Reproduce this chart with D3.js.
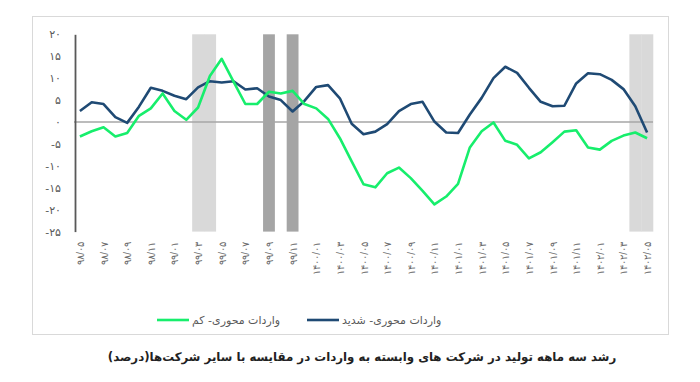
<!DOCTYPE html>
<html>
<head>
<meta charset="utf-8">
<script src="https://cdn.jsdelivr.net/npm/d3@7"></script>
<style>
  html, body { margin: 0; padding: 0; background: #ffffff; }
  svg { display: block; font-family: "DejaVu Sans", "Noto Sans", sans-serif; }
</style>
</head>
<body>
<svg id="chart" width="700" height="382"></svg>
<script>
// ---- Data ----
const months = [
  "98/05","98/06","98/07","98/08","98/09","98/10","98/11","98/12",
  "99/01","99/02","99/03","99/04","99/05","99/06","99/07","99/08","99/09","99/10","99/11","99/12",
  "1400/01","1400/02","1400/03","1400/04","1400/05","1400/06","1400/07","1400/08","1400/09","1400/10","1400/11","1400/12",
  "1401/01","1401/02","1401/03","1401/04","1401/05","1401/06","1401/07","1401/08","1401/09","1401/10","1401/11","1401/12",
  "1402/01","1402/02","1402/03","1402/04","1402/05"
];
const tickMonths = [
  "98/05","98/07","98/09","98/11","99/01","99/03","99/05","99/07","99/09","99/11",
  "1400/01","1400/03","1400/05","1400/07","1400/09","1400/11",
  "1401/01","1401/03","1401/05","1401/07","1401/09","1401/11",
  "1402/01","1402/03","1402/05"
];
const severeImport = [ // واردات محوری- شدید
  2.5, 4.5, 4.1, 1.1, -0.2, 3.5, 7.8, 7.1, 6.0, 5.2, 7.9, 9.3, 9.0, 9.3, 7.4, 7.7,
  5.8, 5.0, 2.4, 4.8, 8.0, 8.4, 5.4, -0.4, -2.8, -2.2, -0.5, 2.5, 4.1, 4.6, 0.1, -2.4,
  -2.5, 1.7, 5.5, 10.0, 12.6, 11.2, 7.8, 4.6, 3.6, 3.7, 8.8, 11.1, 10.9, 9.6, 7.5, 3.6, -2.4
];
const lowImport = [ // واردات محوری- کم
  -3.3, -2.1, -1.2, -3.3, -2.5, 1.4, 3.1, 6.5, 2.5, 0.5, 3.3, 10.5, 14.4, 9.2, 4.1, 4.1,
  6.9, 6.5, 7.1, 4.1, 3.1, 0.7, -3.7, -9.0, -14.2, -14.9, -11.7, -10.4, -12.8, -15.7, -18.8, -17.0,
  -14.1, -5.8, -2.1, -0.1, -4.3, -5.2, -8.3, -6.9, -4.6, -2.2, -1.9, -5.8, -6.3, -4.3, -3.1, -2.4, -3.7
];
const yTicks = [20, 15, 10, 5, 0, -5, -10, -15, -20, -25];
const lightBands = ["99/03", "99/04", "1402/04", "1402/05"];
const darkBands = ["99/09", "99/11"];
const seriesNames = ["واردات محوری- کم", "واردات محوری- شدید"];
const caption = "رشد سه ماهه تولید در شرکت های وابسته به واردات در مقایسه با سایر شرکت\u200Cها(درصد)";

// ---- Helpers ----
const faDigits = "۰۱۲۳۴۵۶۷۸۹";
const toFa = s => String(s).replace(/[0-9]/g, d => faDigits[+d]);

// ---- Layout ----
const svg = d3.select("#chart");
const plot = { left: 74, right: 653, top: 34.3, bottom: 231.6 };
const colors = { low: "#17ee6c", severe: "#1f4a74", light: "#d9d9d9", dark: "#a5a5a5" };

const xBand = d3.scaleBand().domain(months).range([plot.left, plot.right]).paddingInner(0).paddingOuter(0);
const xPt = d3.scalePoint().domain(months).range([plot.left, plot.right]).padding(0.5);
const y = d3.scaleLinear().domain([-25, 20]).range([plot.bottom, plot.top]);

// frame
svg.append("rect")
  .attr("x", 32.5).attr("y", 16.5).attr("width", 636).attr("height", 318)
  .attr("fill", "#ffffff").attr("stroke", "#d9d9d9").attr("stroke-width", 1);

// shaded bands
svg.append("g").selectAll("rect").data(lightBands).join("rect")
  .attr("x", d => xBand(d)).attr("width", xBand.bandwidth() + 0.3)
  .attr("y", y(20)).attr("height", y(-25) - y(20))
  .attr("fill", colors.light);
svg.append("g").selectAll("rect").data(darkBands).join("rect")
  .attr("x", d => xBand(d)).attr("width", xBand.bandwidth())
  .attr("y", y(20)).attr("height", y(-25) - y(20))
  .attr("fill", colors.dark);

// zero line
svg.append("line")
  .attr("x1", plot.left).attr("x2", plot.right)
  .attr("y1", y(0)).attr("y2", y(0))
  .attr("stroke", "#a6a6a6").attr("stroke-width", 1.5);

// y axis
const yAxis = d3.axisLeft(y).tickValues(yTicks).tickSize(0).tickPadding(14)
  .tickFormat(d => toFa(d));
const gy = svg.append("g").attr("transform", `translate(${plot.left + 1},0)`).call(yAxis);
gy.select(".domain").attr("stroke", "#595959").attr("stroke-width", 1.8);
gy.selectAll("text").attr("fill", "#595959").attr("font-size", 11)
  .attr("font-family", "\"DejaVu Sans\", sans-serif");

// x axis labels (rotated)
const xAxis = d3.axisBottom(xPt).tickValues(tickMonths).tickSize(0).tickFormat(d => toFa(d));
const gx = svg.append("g").attr("transform", `translate(0,242)`).call(xAxis);
gx.select(".domain").remove();
gx.selectAll("text")
  .attr("fill", "#6b6b6b").attr("font-size", 10)
  .attr("text-anchor", "end")
  .attr("x", 0).attr("y", 0).attr("dy", "0.35em")
  .attr("transform", "rotate(-90)");

// lines
const line = d3.line().x((d, i) => xPt(months[i])).y(d => y(d));
svg.append("path").datum(severeImport)
  .attr("d", line).attr("fill", "none")
  .attr("stroke", colors.severe).attr("stroke-width", 2.6).attr("stroke-linejoin", "round");
svg.append("path").datum(lowImport)
  .attr("d", line).attr("fill", "none")
  .attr("stroke", colors.low).attr("stroke-width", 2.6).attr("stroke-linejoin", "round");

// legend
const legend = [
  { name: seriesNames[0], color: colors.low, x: 157 },
  { name: seriesNames[1], color: colors.severe, x: 307 }
];
const lg = svg.append("g").selectAll("g").data(legend).join("g")
  .attr("transform", d => `translate(${d.x},320)`);
lg.append("line").attr("x1", 0).attr("x2", 32).attr("y1", 0).attr("y2", 0)
  .attr("stroke", d => d.color).attr("stroke-width", 2.6);
lg.append("text").attr("x", 35).attr("y", 0).attr("dy", "0.32em")
  .attr("font-size", 11).attr("fill", "#595959")
  .text(d => d.name);

// caption
svg.append("text")
  .attr("x", 362).attr("y", 361)
  .attr("text-anchor", "middle")
  .attr("font-size", 11.8).attr("font-weight", "bold").attr("fill", "#222222")
  .text(caption);
</script>
</body>
</html>
